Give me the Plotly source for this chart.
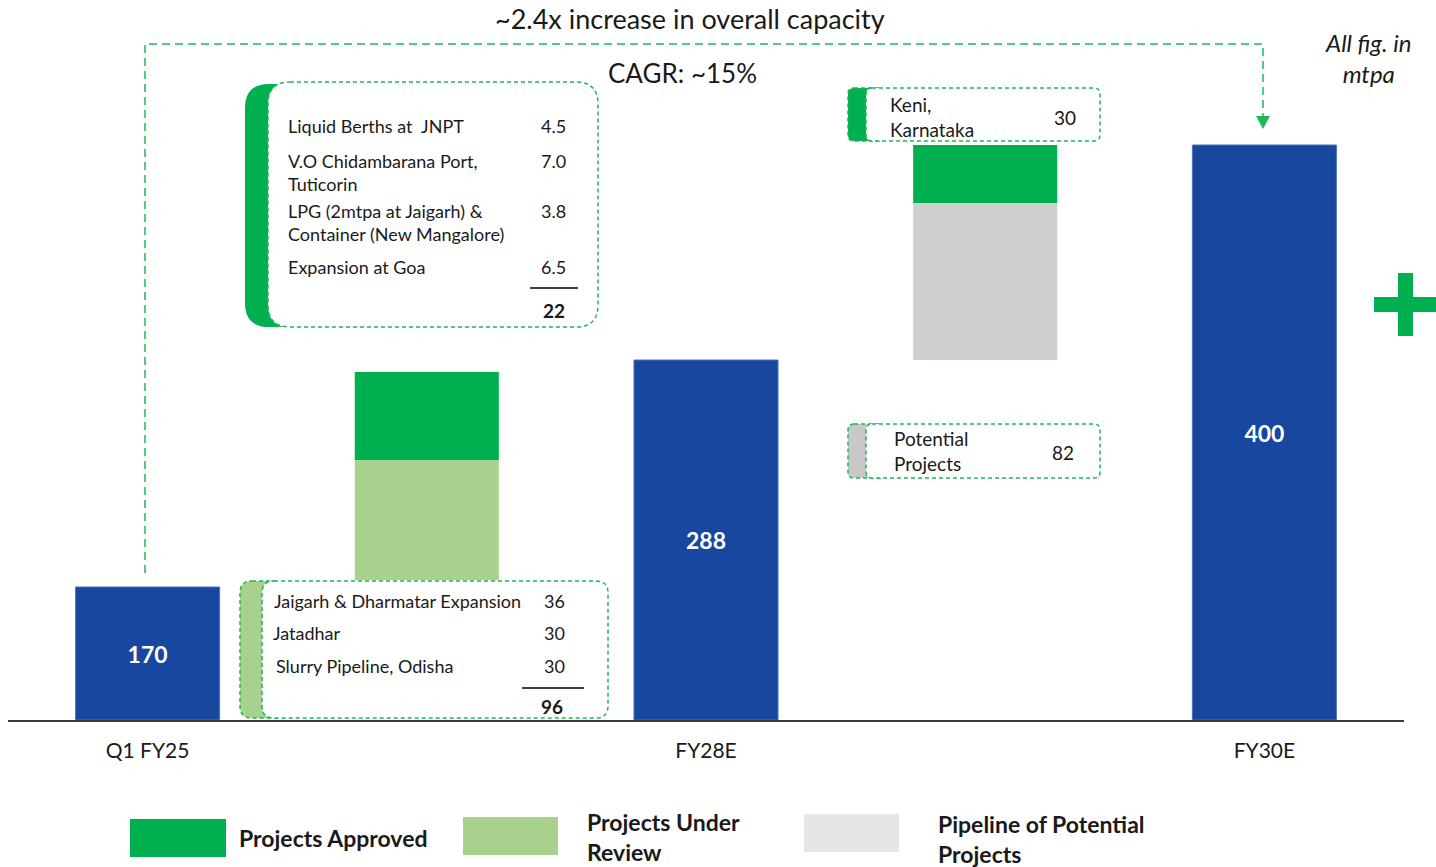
import plotly.graph_objects as go

# capacity in mtpa
stages = ["Q1 FY25", "FY28E", "FY30E"]
capacity = [170, 288, 400]

# FY25 -> FY28E bridge
approved_28_names = ["Liquid Berths at  JNPT", "V.O Chidambarana Port,<br>Tuticorin",
                     "LPG (2mtpa at Jaigarh) &<br>Container (New Mangalore)", "Expansion at Goa"]
approved_28_vals = [4.5, 7.0, 3.8, 6.5]
approved_28_total = 22
review_28_names = ["Jaigarh & Dharmatar Expansion", "Jatadhar", "Slurry Pipeline, Odisha"]
review_28_vals = [36, 30, 30]
review_28_total = 96

# FY28E -> FY30E bridge
approved_30_names = ["Keni,<br>Karnataka"]
approved_30_vals = [30]
pipeline_30_names = ["Potential<br>Projects"]
pipeline_30_vals = [82]

# the original chart is schematic: bar heights as drawn (chart units)
total_drawn = [133, 360, 575]
review_drawn_base, review_drawn = [140], [120]
approved_drawn_base, approved_drawn = [260, 517], [88, 58]
pipeline_drawn_base, pipeline_drawn = [360], [157]

BLUE = "#17479E"
GREEN = "#00B050"
LGREEN = "#A9D18E"
GREY = "#D0CECE"
LGREY = "#E6E6E6"
DASH = "#1DB954"
FONT = "Lato, Roboto, sans-serif"

W, H = 1436, 867
L, R, B = 8, 32, 147
PW, PH = W - L - R, H - B


def pp(x, y):
    # page pixel -> paper coords
    return (x - L) / PW, (PH - y) / PH


def path_of(points, close=True):
    parts = []
    for cmd, pts in points:
        parts.append(cmd + " ".join("%.5f,%.5f" % pp(*p) for p in pts))
    return " ".join(parts) + (" Z" if close else "")


def rrect(x0, y0, x1, y1, r):
    return path_of([
        ("M", [(x0 + r, y0)]), ("L", [(x1 - r, y0)]), ("Q", [(x1, y0), (x1, y0 + r)]),
        ("L", [(x1, y1 - r)]), ("Q", [(x1, y1), (x1 - r, y1)]),
        ("L", [(x0 + r, y1)]), ("Q", [(x0, y1), (x0, y1 - r)]),
        ("L", [(x0, y0 + r)]), ("Q", [(x0, y0), (x0 + r, y0)]),
    ])


shapes = []
annotations = []


def shape(path, fill=None, line_color=None, width=1.5, dash="4px,3px"):
    shapes.append(dict(type="path", xref="paper", yref="paper", path=path,
                       fillcolor=fill or "rgba(0,0,0,0)",
                       line=dict(color=line_color or "rgba(0,0,0,0)", width=width, dash=dash),
                       layer="above"))


def rect(x0, y0, x1, y1, color):
    a, b = pp(x0, y1)
    c, d = pp(x1, y0)
    shapes.append(dict(type="rect", xref="paper", yref="paper", x0=a, y0=b, x1=c, y1=d,
                       fillcolor=color, line=dict(width=0), layer="above"))


def note(x, y, text, size=18, anchor="left", color="#1a1a1a", family=FONT):
    a, b = pp(x, y)
    annotations.append(dict(xref="paper", yref="paper", x=a, y=b, text=text, showarrow=False,
                            xanchor=anchor, yanchor="middle", align=anchor,
                            font=dict(family=family, size=size, color=color)))


def hline(x0, x1, y):
    a, b = pp(x0, y)
    c, _ = pp(x1, y)
    shapes.append(dict(type="line", xref="paper", yref="paper", x0=a, x1=c, y0=b, y1=b,
                       line=dict(color="black", width=1.5), layer="above"))


fig = go.Figure()
bw = 0.516
fig.add_trace(go.Bar(x=[0, 2, 4], y=total_drawn, width=bw, marker=dict(color=BLUE, line=dict(color="#4f74b8", width=1)),
                     text=["<b>%d</b>" % v for v in capacity], textposition="inside",
                     insidetextanchor="middle", textfont=dict(family=FONT, size=23, color="white"),
                     name="Capacity"))
fig.add_trace(go.Bar(x=[1], y=review_drawn, base=review_drawn_base, width=bw,
                     marker=dict(color=LGREEN, line=dict(width=0)), name="Projects Under Review"))
fig.add_trace(go.Bar(x=[1, 3], y=approved_drawn, base=approved_drawn_base, width=bw,
                     marker=dict(color=GREEN, line=dict(width=0)), name="Projects Approved"))
fig.add_trace(go.Bar(x=[3], y=pipeline_drawn, base=pipeline_drawn_base, width=bw,
                     marker=dict(color=GREY, line=dict(width=0)), name="Pipeline of Potential Projects"))

# overall capacity connector
shape(path_of([("M", [(145, 573)]), ("L", [(145, 44)]), ("L", [(1263, 44)]), ("L", [(1263, 117)])], close=False),
      line_color=DASH, width=1.5, dash="8px,5px")
shape(path_of([("M", [(1256, 116)]), ("L", [(1270, 116)]), ("L", [(1263, 129)])]), fill=DASH, width=0)
note(690, 18, "~2.4x increase in overall capacity", size=27, anchor="center")
note(682, 73, "CAGR: ~15%", size=26, anchor="center")
note(1368, 58, "<i>All fig. in<br>mtpa</i>", size=24, anchor="center")

# approved projects box (FY28E)
shape(rrect(245, 84, 300, 327, 24), fill=GREEN)
shape(rrect(268, 82, 598, 327, 22), fill="white", line_color=DASH)
rows_y = [126, 172, 222, 267]
for name, val, y in zip(approved_28_names, approved_28_vals, rows_y):
    note(286, y, name)
    first = y - 11 if "<br>" in name else y
    note(568, first, "%.1f" % val, anchor="right")
hline(530, 578, 288)
note(554, 310, "<b>%d</b>" % approved_28_total, size=19, anchor="center")

# under review box (FY28E)
shape(rrect(240, 581, 285, 718, 12), fill=LGREEN, line_color=DASH)
shape(rrect(262, 581, 608, 718, 12), fill="white", line_color=DASH)
for name, val, y, x in zip(review_28_names, review_28_vals, [601, 633, 666], [272, 271, 274]):
    note(x, y, name)
    note(554, y, "%d" % val, anchor="center")
hline(522, 584, 688)
note(552, 706, "<b>%d</b>" % review_28_total, size=19, anchor="center")

# FY30E boxes
shape(rrect(848, 88, 885, 141, 6), fill=GREEN, line_color=DASH)
shape(rrect(866, 88, 1100, 141, 6), fill="white", line_color=DASH)
note(888, 117, approved_30_names[0], size=19)
note(1065, 118, "%d" % approved_30_vals[0], size=19, anchor="center")

shape(rrect(848, 424, 885, 478, 6), fill="#C8C8C8", line_color=DASH)
shape(rrect(866, 424, 1100, 478, 6), fill="white", line_color=DASH)
note(892, 451, pipeline_30_names[0], size=19)
note(1063, 452, "%d" % pipeline_30_vals[0], size=19, anchor="center")

# plus sign
rect(1398, 273, 1413, 336, GREEN)
rect(1374, 297, 1436, 312, GREEN)

# legend
rect(130, 819, 226, 857, GREEN)
note(237, 838, "<b>Projects Approved</b>", size=23)
rect(463, 817, 558, 855, LGREEN)
note(585, 837, "<b>Projects Under<br>Review</b>", size=23)
rect(804, 814, 899, 852, LGREY)
note(936, 839, "<b>Pipeline of Potential<br>Projects</b>", size=23)

fig.update_layout(
    width=W, height=H,
    margin=dict(l=L, r=R, t=0, b=B),
    barmode="overlay",
    showlegend=False,
    plot_bgcolor="white",
    paper_bgcolor="white",
    shapes=shapes,
    annotations=annotations,
    xaxis=dict(range=[-0.5, 4.5], tickvals=[0, 2, 4], ticktext=stages, showline=True,
               linecolor="#3a3a3a", linewidth=1.5, showgrid=False, zeroline=False, ticks="",
               ticklabelstandoff=11, tickfont=dict(family=FONT, size=21, color="#1a1a1a"),
               fixedrange=True),
    yaxis=dict(range=[0, PH], visible=False, fixedrange=True),
)

fig.write_html("out.html", config={"displayModeBar": False},
               post_script="document.body.style.margin='0';")
